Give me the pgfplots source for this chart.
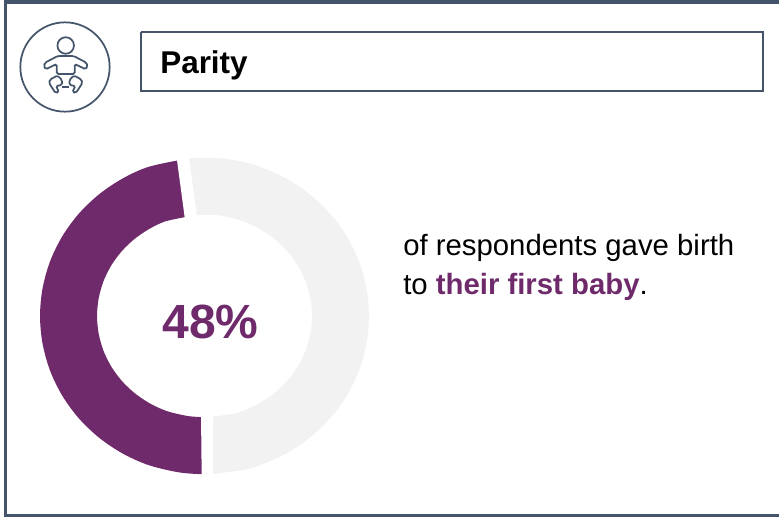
\documentclass[border=0pt]{standalone}
\usepackage{pgfplots}
\pgfplotsset{compat=1.18}
\usepackage{fontspec}
\setmainfont{Liberation Sans}
\definecolor{plum}{HTML}{6F2A6B}
\definecolor{ringgrey}{HTML}{F2F2F2}
\definecolor{slate}{HTML}{44546A}
\begin{document}
\begin{tikzpicture}
\begin{axis}[
    scale only axis,
    width=584.25pt, height=387.75pt,
    xmin=0, xmax=779, ymin=0, ymax=517,
    y dir=reverse,
    hide axis,
    clip=false,
]
% outer frame
\addplot[slate, line width=2.7pt, forget plot] coordinates {(5.5,517) (5.5,2) (779,2)};
\addplot[slate, line width=2.4pt, forget plot] coordinates {(4,515.5) (779,515.5)};
% title box
\addplot[slate, line width=1.2pt, forget plot] coordinates {(141,32) (763,32) (763,91) (141,91) (141,32)};
% ring: 48% plum under 52% grey, ends run into the gaps
\addplot[plum, line width=42.75pt, smooth, forget plot] coordinates {
    (207,445.9) (184,444.3) (158,438.2) (136.5,428.6) (117.1,415.6) (100.3,399.6)
    (86.7,381) (76.7,360.5) (70.6,338.6) (68.5,316) (70.6,293.4) (76.7,271.5)
    (86.7,251) (100.3,232.4) (117.1,216.4) (136.5,203.4) (158,193.8) (194,186.4)
};
\addplot[ringgrey, line width=42.75pt, smooth, forget plot] coordinates {
    (188.5,186.9) (216.4,186.5) (239.7,190.4) (262,198.2) (282.5,209.5) (300.7,224.1)
    (315.9,241.4) (327.8,261.1) (335.9,282.4) (340,304.7) (340,327.3) (335.9,349.6)
    (327.8,370.9) (315.9,390.6) (300.7,407.9) (282.5,422.5) (262,433.8) (239.7,441.6) (207,445.8)
};
% white gaps between the two slices
\addplot[fill=white, draw=none, forget plot] coordinates {(176.3,155) (188.3,153) (197.5,219) (184.9,219)};
\addplot[fill=white, draw=none, forget plot] coordinates {(201,412) (213,412) (213,478) (201.7,478)};
% texts
\node[anchor=base west, inner sep=0pt, font=\fontsize{23.6}{28}\selectfont\bfseries] at (axis cs:160,74) {Parity};
\node[anchor=base, inner sep=0pt, text=plum, font=\fontsize{36}{40}\selectfont\bfseries] at (axis cs:210.5,338) {48\%};
\node[anchor=base west, inner sep=0pt, font=\fontsize{22}{26}\selectfont] at (axis cs:403,255.5) {of respondents gave birth};
\node[anchor=base west, inner sep=0pt, font=\fontsize{22}{26}\selectfont] at (axis cs:403,294) {to \textcolor{plum}{\bfseries their first baby}.};
% baby icon
\draw[slate, line width=1.3pt] (axis cs:65,67) circle [radius=33.5pt];
\draw[slate, line width=1.3pt] (axis cs:65.7,45.5) circle [radius=6.2pt];
\draw[slate, line width=1.3pt, rounded corners=1.2pt]
    (axis cs:57.7,56) -- (axis cs:45,62.7) -- (axis cs:43.8,66) -- (axis cs:45.7,69.3)
    -- (axis cs:56.7,64) -- (axis cs:56.7,74) -- (axis cs:74.7,74) -- (axis cs:74.7,64)
    -- (axis cs:85.7,69.3) -- (axis cs:87.6,66) -- (axis cs:86.4,62.7) -- (axis cs:73.7,56) -- cycle;
\draw[slate, line width=1.3pt, rounded corners=1.2pt]
    (axis cs:57.5,75.5) -- (axis cs:50,79.5) -- (axis cs:49,83) -- (axis cs:55.5,93)
    -- (axis cs:59,92) -- (axis cs:56,86) -- (axis cs:62,85) -- (axis cs:62,80) -- cycle;
\draw[slate, line width=1.3pt, rounded corners=1.2pt]
    (axis cs:73.9,75.5) -- (axis cs:81.4,79.5) -- (axis cs:82.4,83) -- (axis cs:75.9,93)
    -- (axis cs:72.4,92) -- (axis cs:75.4,86) -- (axis cs:69.4,85) -- (axis cs:69.4,80) -- cycle;
\draw[slate, line width=1.3pt] (axis cs:62,87) -- (axis cs:69.4,87);
\end{axis}
\pgfresetboundingbox
\path[use as bounding box] (0,0) rectangle (584.25pt,387.75pt);
\end{tikzpicture}
\end{document}
